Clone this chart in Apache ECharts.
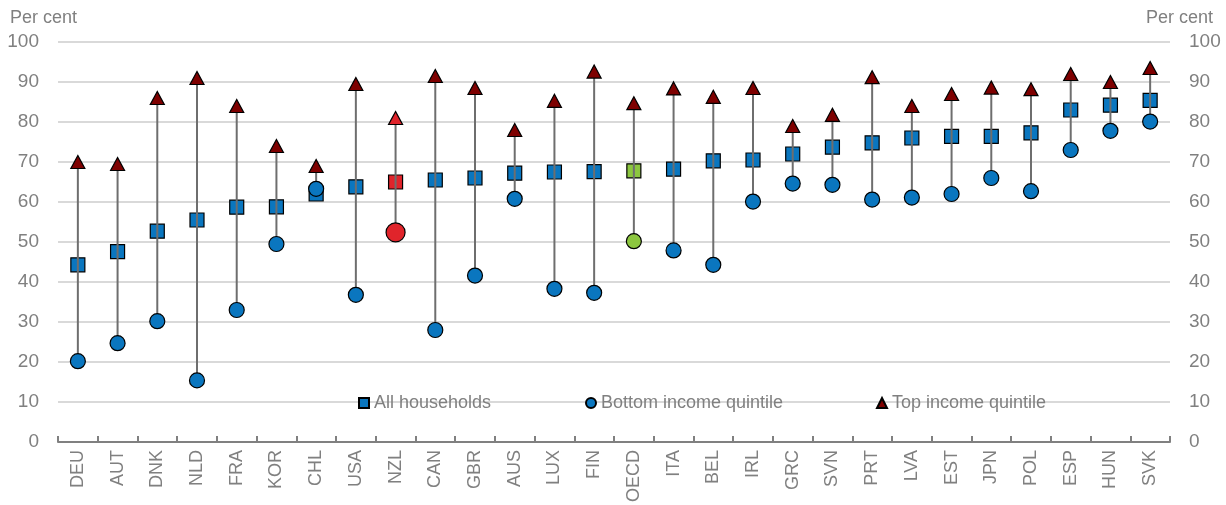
<!DOCTYPE html>
<html><head><meta charset="utf-8">
<script src="https://cdn.jsdelivr.net/npm/echarts@6/dist/echarts.min.js"></script>
<style>html,body{margin:0;padding:0;background:#fff}#c{width:1226px;height:505px}</style>
</head><body><div id="c"></div>
<script>
const categories = ['DEU','AUT','DNK','NLD','FRA','KOR','CHL','USA','NZL','CAN','GBR','AUS','LUX','FIN','OECD','ITA','BEL','IRL','GRC','SVN','PRT','LVA','EST','JPN','POL','ESP','HUN','SVK'];
const allHouseholds = [44.3,47.6,52.7,55.5,58.7,58.8,62.0,63.8,65.0,65.5,66.0,67.2,67.5,67.6,67.8,68.2,70.3,70.5,72.0,73.7,74.8,76.0,76.4,76.4,77.3,83.0,84.2,85.4];
const bottomQuintile = [20.2,24.7,30.2,15.4,33.0,49.5,63.3,36.8,52.4,28.0,41.6,60.8,38.3,37.3,50.2,47.9,44.3,60.1,64.6,64.3,60.6,61.1,62.0,66.0,62.7,73.0,77.8,80.1];
const topQuintile = [70.0,69.5,86.0,91.0,84.0,74.0,69.0,89.5,81.0,91.5,88.5,78.0,85.3,92.6,84.7,88.4,86.3,88.5,79.0,81.8,91.2,84.0,87.0,88.6,88.2,92.0,90.0,93.5];
const yTicks = [0,10,20,30,40,50,60,70,80,90,100];

const FONT = '"Liberation Sans Narrow","Arial Narrow","Liberation Sans",Arial,sans-serif';
const GREY = '#808080';
const BLUE = '#0A76BF';
const DARKRED = '#7E0000';
const RED = '#E0242B';
const GREEN = '#8CC63F';

function styled(vals, kind) {
  return vals.map((v, i) => {
    const c = categories[i];
    if (c === 'NZL') return {value: v, itemStyle: {color: RED}, symbolSize: kind === 'circle' ? 19 : undefined};
    if (c === 'OECD' && kind !== 'triangle') return {value: v, itemStyle: {color: GREEN}};
    return v;
  });
}
const rangeData = categories.map((c, i) => [i, bottomQuintile[i], topQuintile[i]]);

const chart = echarts.init(document.getElementById('c'), null, {renderer: 'canvas'});
const yAxisBase = {
  type: 'value', min: 0, max: 100, interval: 10,
  axisLine: {show: false}, axisTick: {show: false},
  axisLabel: {color: GREY, fontFamily: FONT, fontSize: 19, margin: 19,
    formatter: v => yTicks.includes(v) ? String(v) : ''},
};
const legendText = {color: GREY, fontFamily: FONT, fontSize: 18};
chart.setOption({
  animation: false,
  backgroundColor: '#fff',
  grid: {left: 58, right: 56, top: 42, bottom: 55},
  legend: [
    {left: 353, top: 389, itemWidth: 10, itemHeight: 10, data: [{name: 'All households', icon: 'rect'}], textStyle: legendText},
    {left: 580, top: 389, itemWidth: 10, itemHeight: 10, data: [{name: 'Bottom income quintile', icon: 'circle'}], textStyle: legendText},
    {left: 871, top: 389, itemWidth: 10, itemHeight: 10, data: [{name: 'Top income quintile', icon: 'triangle'}], textStyle: legendText}
  ],
  graphic: [
    {type: 'text', left: 10, top: 9, style: {text: 'Per cent', fill: GREY, font: '18px ' + FONT}},
    {type: 'text', right: 13, top: 9, style: {text: 'Per cent', fill: GREY, font: '18px ' + FONT}}
  ],
  xAxis: {
    type: 'category', data: categories, boundaryGap: true,
    axisLine: {lineStyle: {color: GREY, width: 2}},
    axisTick: {show: true, inside: true, length: 6, lineStyle: {color: GREY, width: 2}},
    axisLabel: {rotate: 90, color: GREY, fontFamily: FONT, fontSize: 18, margin: 8, interval: 0},
    splitLine: {show: false}
  },
  yAxis: [
    Object.assign({}, yAxisBase, {position: 'left', splitLine: {show: true, lineStyle: {color: '#D9D9D9', width: 2}}}),
    Object.assign({}, yAxisBase, {position: 'right', splitLine: {show: false}})
  ],
  series: [
    {
      name: 'All households', type: 'scatter', symbol: 'rect', symbolSize: 14, z: 2,
      itemStyle: {color: BLUE, borderColor: '#000', borderWidth: 1.2, opacity: 1},
      data: styled(allHouseholds, 'square')
    },
    {
      name: 'range', type: 'custom', z: 3, silent: true,
      renderItem: (params, api) => {
        const x = api.value(0);
        const p1 = api.coord([x, api.value(1)]);
        const p2 = api.coord([x, api.value(2)]);
        return {type: 'line', shape: {x1: p1[0], y1: p1[1], x2: p2[0], y2: p2[1]},
          style: {stroke: '#6E6E6E', lineWidth: 2}};
      },
      encode: {x: 0, y: [1, 2]},
      data: rangeData
    },
    {
      name: 'Bottom income quintile', type: 'scatter', symbol: 'circle', symbolSize: 15, z: 4,
      itemStyle: {color: BLUE, borderColor: '#000', borderWidth: 1.2, opacity: 1},
      data: styled(bottomQuintile, 'circle')
    },
    {
      name: 'Top income quintile', type: 'scatter', symbol: 'triangle', symbolSize: [14, 13], z: 5,
      itemStyle: {color: DARKRED, borderColor: '#000', borderWidth: 1.2, opacity: 1},
      data: styled(topQuintile, 'triangle')
    }
  ]
});
</script></body></html>
